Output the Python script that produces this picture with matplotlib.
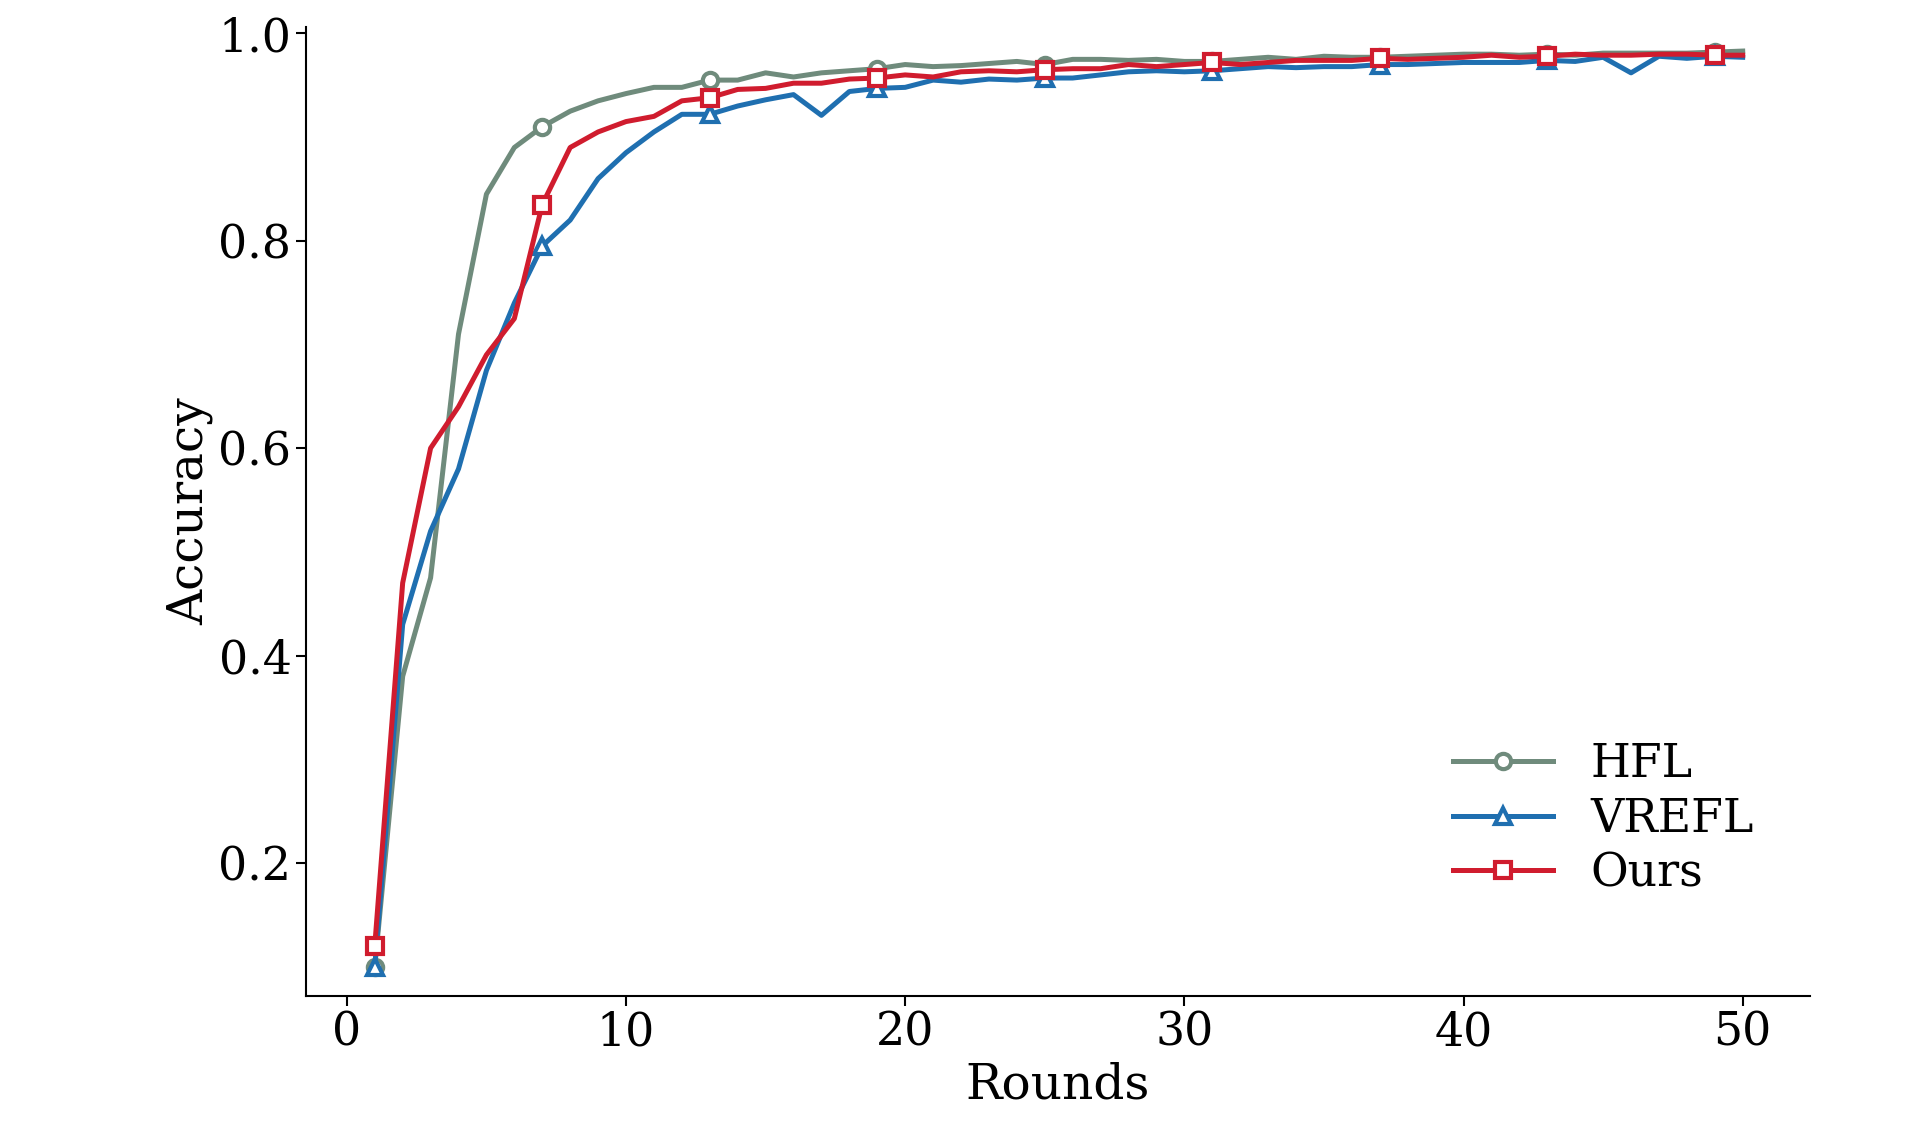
import matplotlib
matplotlib.use('Agg')
from matplotlib import pyplot as plt

plt.rcParams['font.family'] = ['DejaVu Serif']

rounds = list(range(1, 51))
hfl = [0.10, 0.38, 0.475, 0.71, 0.845, 0.89, 0.91, 0.925, 0.935, 0.942,
       0.948, 0.948, 0.955, 0.955, 0.962, 0.958, 0.962, 0.964, 0.966, 0.970,
       0.968, 0.969, 0.971, 0.973, 0.970, 0.975, 0.975, 0.974, 0.975, 0.973,
       0.973, 0.975, 0.977, 0.975, 0.978, 0.977, 0.977, 0.978, 0.979, 0.980,
       0.980, 0.979, 0.980, 0.979, 0.981, 0.981, 0.981, 0.981, 0.982, 0.983]
vrefl = [0.10, 0.43, 0.52, 0.58, 0.675, 0.74, 0.795, 0.82, 0.86, 0.885,
         0.905, 0.922, 0.922, 0.93, 0.936, 0.941, 0.921, 0.944, 0.947, 0.948,
         0.955, 0.953, 0.956, 0.955, 0.957, 0.957, 0.960, 0.963, 0.964, 0.963,
         0.964, 0.966, 0.968, 0.967, 0.968, 0.968, 0.970, 0.970, 0.971, 0.972,
         0.972, 0.972, 0.974, 0.973, 0.977, 0.962, 0.978, 0.976, 0.978, 0.977]
ours = [0.12, 0.47, 0.60, 0.64, 0.69, 0.725, 0.835, 0.89, 0.905, 0.915,
        0.92, 0.935, 0.938, 0.946, 0.947, 0.952, 0.952, 0.956, 0.957, 0.960,
        0.958, 0.963, 0.964, 0.963, 0.965, 0.966, 0.966, 0.970, 0.968, 0.970,
        0.972, 0.970, 0.972, 0.974, 0.974, 0.974, 0.976, 0.975, 0.976, 0.977,
        0.979, 0.977, 0.978, 0.980, 0.979, 0.979, 0.980, 0.980, 0.979, 0.979]

fig = plt.figure(figsize=(19.13, 11.34), dpi=100)
ax = fig.add_axes([0.16, 0.122, 0.786, 0.854])

kw = dict(lw=3.6, markevery=6, ms=11, mew=3, mfc='white')
ax.plot(rounds, hfl, color='#6f8b7c', marker='o', label='HFL', **kw)
ax.plot(rounds, vrefl, color='#1f6fb0', marker='^', label='VREFL', **kw)
ax.plot(rounds, ours, color='#d01c2e', marker='s', label='Ours', **kw)

ax.set_xlim(-1.46, 52.4)
ax.set_ylim(0.072, 1.006)
ax.set_xticks([0, 10, 20, 30, 40, 50])
ax.set_yticks([0.2, 0.4, 0.6, 0.8, 1.0])
ax.spines['top'].set_visible(False)
ax.spines['right'].set_visible(False)
ax.tick_params(labelsize=33, direction='out', length=7, width=1.5)
for s in ax.spines.values():
    s.set_linewidth(1.5)
ax.set_xlabel('Rounds', fontsize=35)
ax.set_ylabel('Accuracy', fontsize=35)
ax.legend(loc='lower right', bbox_to_anchor=(0.99, 0.06), frameon=False,
          fontsize=33, handlelength=2.2, labelspacing=0.2)

fig.savefig('out.png', dpi=100)
